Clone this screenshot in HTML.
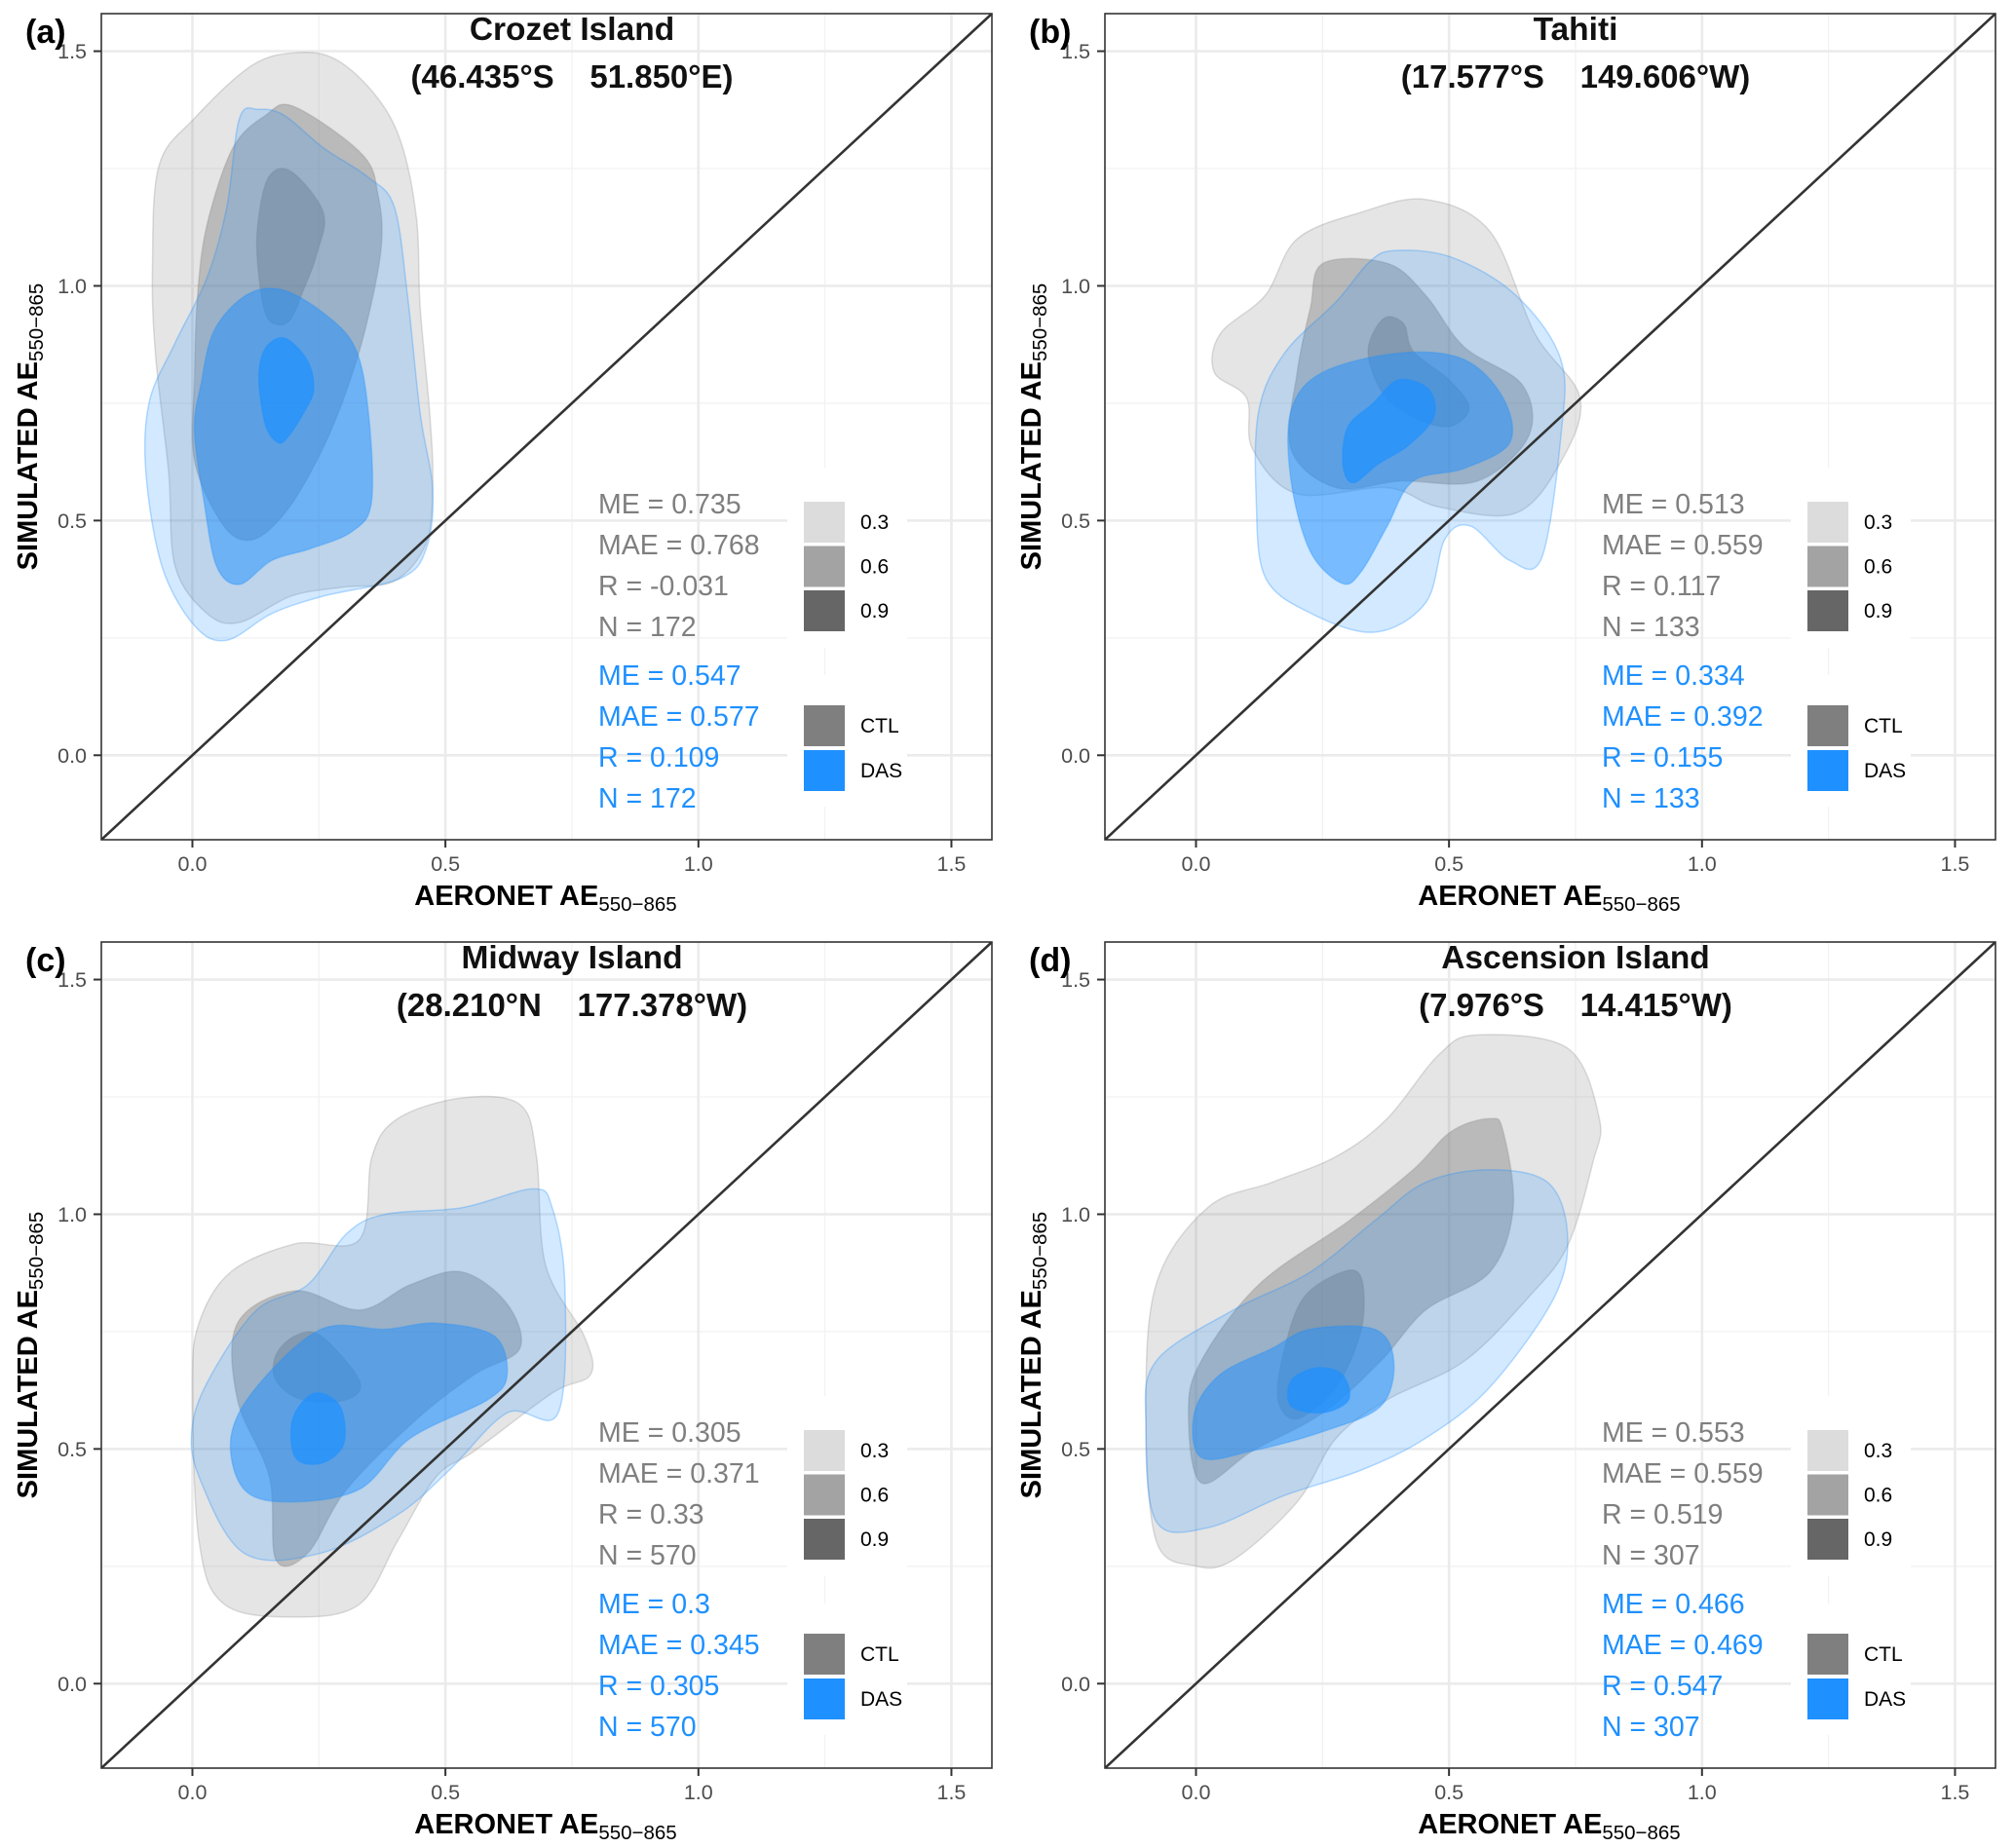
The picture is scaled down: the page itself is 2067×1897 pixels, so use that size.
<!DOCTYPE html>
<html><head><meta charset="utf-8"><style>
html,body{margin:0;padding:0;background:#fff;}
svg{display:block;font-family:"Liberation Sans",Arial,sans-serif;}
</style></head><body>
<svg id="fig" width="2067" height="1897" viewBox="0 0 2067 1897" xmlns="http://www.w3.org/2000/svg"></svg>
<script>
const ticks = [0, 0.5, 1.0, 1.5];
const tickLabels = ["0.0", "0.5", "1.0", "1.5"];
const minorTicks = [0.25, 0.75, 1.25];
const levels = ["0.3", "0.6", "0.9"];
const groups = ["CTL", "DAS"];

const panelIds = ["a", "b", "c", "d"];
const panelNames = ["Crozet Island", "Tahiti", "Midway Island", "Ascension Island"];
const panelCoords = ["(46.435°S    51.850°E)", "(17.577°S    149.606°W)", "(28.210°N    177.378°W)", "(7.976°S    14.415°W)"];
const ctlStats = [["0.735","0.768","-0.031","172"],["0.513","0.559","0.117","133"],["0.305","0.371","0.33","570"],["0.553","0.559","0.519","307"]];
const dasStats = [["0.547","0.577","0.109","172"],["0.334","0.392","0.155","133"],["0.3","0.345","0.305","570"],["0.466","0.469","0.547","307"]];

// contour polygons [x,y] in data units: [panel][level]
const ctlContours = [
 [
  [[.208,1.497],[.284,1.482],[.361,1.407],[.412,1.307],[.443,1.143],[.450,.955],[.469,.729],[.475,.578],[.462,.452],[.399,.371],[.297,.358],[.195,.339],[.093,.283],[.029,.302],[-.034,.402],[-.047,.603],[-.073,.854],[-.079,1.043],[-.066,1.256],[.004,1.357],[.118,1.470]],
  [[.201,1.382],[.335,1.281],[.367,1.193],[.373,1.080],[.341,.905],[.297,.754],[.246,.628],[.182,.515],[.118,.459],[.061,.490],[.004,.628],[.004,.804],[.010,.980],[.029,1.131],[.080,1.294],[.144,1.363]],
  [[.195,1.244],[.259,1.156],[.246,1.068],[.220,.992],[.195,.930],[.169,.917],[.144,.942],[.129,1.043],[.129,1.131],[.150,1.231]]
 ],
 [
  [[.454,1.184],[.581,1.116],[.67,.898],[.759,.761],[.721,.625],[.632,.516],[.48,.529],[.378,.570],[.20,.557],[.112,.652],[.10,.761],[.036,.816],[.048,.898],[.137,.98],[.20,1.10],[.327,1.157]],
  [[.251,1.048],[.378,1.048],[.454,.98],[.53,.87],[.645,.789],[.657,.679],[.556,.584],[.404,.584],[.277,.57],[.188,.652],[.20,.816],[.226,.953]],
  [[.37,.93],[.41,.92],[.43,.86],[.50,.80],[.54,.74],[.50,.70],[.43,.72],[.37,.77],[.34,.86]]
 ],
 [
  [[.533,1.248],[.647,1.234],[.68,1.123],[.698,.891],[.774,.741],[.787,.659],[.711,.619],[.558,.496],[.482,.441],[.406,.305],[.33,.169],[.203,.142],[.063,.169],[.013,.305],[0,.632],[.013,.768],[.076,.877],[.203,.937],[.33,.946],[.355,1.123],[.406,1.204]],
  [[.203,.837],[.33,.796],[.431,.85],[.533,.877],[.622,.809],[.647,.714],[.558,.659],[.444,.564],[.305,.414],[.228,.278],[.165,.264],[.152,.441],[.089,.605],[.089,.768]],
  [[.203,.741],[.254,.741],[.33,.646],[.305,.605],[.216,.605],[.165,.646],[.165,.700]]
 ],
 [
  [[.556,1.382],[.734,1.354],[.797,1.204],[.784,1.109],[.734,.932],[.657,.823],[.53,.687],[.378,.605],[.277,.523],[.20,.387],[.074,.264],[-.003,.251],[-.079,.305],[-.099,.577],[-.079,.85],[.023,1.014],[.15,1.068],[.277,1.123],[.378,1.204],[.48,1.34]],
  [[.581,1.204],[.607,1.177],[.627,1.014],[.581,.877],[.454,.796],[.365,.687],[.251,.577],[.112,.496],[.01,.428],[-.015,.577],[.01,.687],[.124,.85],[.302,.986],[.429,1.095],[.505,1.177]],
  [[.289,.877],[.327,.864],[.327,.755],[.277,.632],[.20,.564],[.162,.605],[.175,.714],[.213,.823]]
 ]
];
const dasContours = [
 [
  [[.131,1.376],[.182,1.363],[.259,1.294],[.348,1.231],[.399,1.168],[.425,.980],[.450,.729],[.475,.565],[.462,.440],[.412,.377],[.259,.339],[.157,.302],[.068,.245],[.004,.276],[-.060,.402],[-.092,.603],[-.085,.754],[-.034,.879],[.029,1.018],[.068,1.168],[.093,1.357]],
  [[.176,.992],[.259,.942],[.322,.867],[.348,.729],[.354,.540],[.316,.477],[.233,.440],[.157,.415],[.093,.364],[.048,.402],[.023,.540],[.004,.691],[.017,.791],[.043,.905],[.106,.980]],
  [[.182,.889],[.227,.842],[.240,.779],[.220,.729],[.189,.678],[.169,.666],[.144,.704],[.131,.804],[.144,.867]]
 ],
 [
  [[.39,1.075],[.505,1.061],[.632,.98],[.721,.843],[.721,.679],[.683,.42],[.62,.415],[.543,.488],[.492,.461],[.454,.325],[.353,.262],[.226,.303],[.137,.379],[.119,.543],[.124,.734],[.175,.857],[.277,.966],[.34,1.048]],
  [[.251,.816],[.404,.857],[.53,.843],[.607,.761],[.62,.666],[.53,.611],[.429,.584],[.378,.488],[.327,.392],[.289,.366],[.226,.434],[.188,.584],[.188,.734]],
  [[.40,.80],[.46,.78],[.47,.72],[.42,.66],[.36,.62],[.31,.58],[.29,.62],[.30,.70],[.35,.75]]
 ],
 [
  [[.381,1.0],[.533,1.014],[.673,1.054],[.711,1.014],[.736,.85],[.723,.577],[.622,.577],[.508,.455],[.406,.36],[.254,.278],[.102,.278],[.013,.441],[0,.55],[.038,.659],[.127,.796],[.228,.85],[.305,.959]],
  [[.254,.755],[.381,.755],[.482,.768],[.596,.741],[.622,.659],[.584,.605],[.431,.523],[.33,.414],[.19,.387],[.102,.414],[.076,.523],[.127,.632]],
  [[.241,.619],[.292,.591],[.299,.51],[.254,.469],[.203,.482],[.198,.564]]
 ],
 [
  [[.581,1.095],[.695,1.068],[.734,.959],[.708,.823],[.581,.632],[.454,.523],[.327,.455],[.175,.401],[.023,.332],[-.079,.346],[-.099,.55],[-.079,.687],[.074,.796],[.226,.877],[.353,.986],[.454,1.068]],
  [[.226,.755],[.353,.755],[.391,.687],[.365,.591],[.251,.537],[.112,.496],[.01,.482],[-.003,.577],[.048,.659],[.15,.714]],
  [[.239,.673],[.289,.659],[.302,.605],[.251,.577],[.188,.591],[.188,.646]]
 ]
];

const NS = "http://www.w3.org/2000/svg";
const svg = document.getElementById("fig");
const PW = 914, PH = 848, DMIN = -0.18, DMAX = 1.58;
const offsets = [[104,14],[1134,14],[104,967],[1134,967]];
const gOp = [0.2, 0.42, 0.5], bOp = [0.2, 0.5, 0.72];

function mk(tag, attrs, parent) {
  const e = document.createElementNS(NS, tag);
  for (const k in attrs) e.setAttribute(k, attrs[k]);
  (parent || svg).appendChild(e);
  return e;
}
function smooth(pts) {
  const n = pts.length; let d = "";
  for (let i = 0; i < n; i++) {
    const p0 = pts[(i-1+n)%n], p1 = pts[i], p2 = pts[(i+1)%n], p3 = pts[(i+2)%n];
    if (i === 0) d += "M" + p1[0].toFixed(1) + "," + p1[1].toFixed(1);
    const c1 = [p1[0]+(p2[0]-p0[0])/6, p1[1]+(p2[1]-p0[1])/6];
    const c2 = [p2[0]-(p3[0]-p1[0])/6, p2[1]-(p3[1]-p1[1])/6];
    d += "C" + c1[0].toFixed(1)+","+c1[1].toFixed(1)+" "+c2[0].toFixed(1)+","+c2[1].toFixed(1)+" "+p2[0].toFixed(1)+","+p2[1].toFixed(1);
  }
  return d + "Z";
}

panelIds.forEach((pid, p) => {
  const L = offsets[p][0], T = offsets[p][1];
  const sx = v => L + (v - DMIN) / (DMAX - DMIN) * PW;
  const sy = v => T + PH - (v - DMIN) / (DMAX - DMIN) * PH;
  const g = mk("g", {});
  
  
  const clipId = "clip" + p;
  const cp = mk("clipPath", {id: clipId}, g);
  mk("rect", {x: L, y: T, width: PW, height: PH}, cp);

  minorTicks.forEach(t => {
    mk("line", {x1: sx(t), x2: sx(t), y1: T, y2: T+PH, stroke: "#f2f2f2", "stroke-width": 1.3}, g);
    mk("line", {x1: L, x2: L+PW, y1: sy(t), y2: sy(t), stroke: "#f2f2f2", "stroke-width": 1.3}, g);
  });
  ticks.forEach(t => {
    mk("line", {x1: sx(t), x2: sx(t), y1: T, y2: T+PH, stroke: "#ebebeb", "stroke-width": 2.6}, g);
    mk("line", {x1: L, x2: L+PW, y1: sy(t), y2: sy(t), stroke: "#ebebeb", "stroke-width": 2.6}, g);
  });

  const cg = mk("g", {"clip-path": "url(#" + clipId + ")"}, g);
  ctlContours[p].forEach((poly, li) => {
    const path = mk("path", {d: smooth(poly.map(q => [sx(q[0]), sy(q[1])])), fill: "#7f7f7f", "fill-opacity": gOp[li], stroke: "#7f7f7f", "stroke-opacity": 0.25, "stroke-width": 1.5}, cg);
    
    
  });
  dasContours[p].forEach((poly, li) => {
    const path = mk("path", {d: smooth(poly.map(q => [sx(q[0]), sy(q[1])])), fill: "#1e90ff", "fill-opacity": bOp[li], stroke: "#1e90ff", "stroke-opacity": 0.3, "stroke-width": 1.5}, cg);
    
    
  });
  const diag = mk("line", {x1: sx(DMIN), y1: sy(DMIN), x2: sx(DMAX), y2: sy(DMAX), stroke: "#333", "stroke-width": 2.6}, cg);
  
  

  mk("rect", {x: L+704, y: T+466, width: 123, height: 185, fill: "#fff"}, g);
  mk("rect", {x: L+704, y: T+679, width: 123, height: 135, fill: "#fff"}, g);
  const lg = mk("g", {}, g);
  
  
  const lvlCol = ["#dcdcdc", "#a3a3a3", "#666666"];
  levels.forEach((lv, i) => {
    mk("rect", {x: L+721, y: T+501+i*45.5, width: 42, height: 42, fill: lvlCol[i]}, lg);
    const t = mk("text", {x: L+779, y: T+529+i*45.5, "font-size": 21, fill: "#000"}, lg);
    t.textContent = lv;
  });
  const lg2 = mk("g", {}, g);
  
  
  const grpCol = ["#7f7f7f", "#1e90ff"];
  groups.forEach((gr, i) => {
    mk("rect", {x: L+721, y: T+710+i*46, width: 42, height: 42, fill: grpCol[i]}, lg2);
    const t = mk("text", {x: L+779, y: T+738+i*46, "font-size": 21, fill: "#000"}, lg2);
    t.textContent = gr;
  });

  const lbl = ["ME = ", "MAE = ", "R = ", "N = "];
  lbl.forEach((s, i) => {
    const t1 = mk("text", {x: L+510, y: T+513+i*42, "font-size": 28.5, fill: "#7f7f7f"}, g);
    t1.textContent = s + ctlStats[p][i];
    
    
    const t2 = mk("text", {x: L+510, y: T+689+i*42, "font-size": 28.5, fill: "#1e90ff"}, g);
    t2.textContent = s + dasStats[p][i];
    
    
  });

  mk("rect", {x: L, y: T, width: PW, height: PH, fill: "none", stroke: "#333", "stroke-width": 1.6}, g);

  ticks.forEach((t, i) => {
    mk("line", {x1: sx(t), x2: sx(t), y1: T+PH, y2: T+PH+8, stroke: "#333", "stroke-width": 2}, g);
    mk("line", {x1: L-8, x2: L, y1: sy(t), y2: sy(t), stroke: "#333", "stroke-width": 2}, g);
    const tx = mk("text", {x: sx(t), y: T+880, "font-size": 21.5, fill: "#4d4d4d", "text-anchor": "middle"}, g);
    tx.textContent = tickLabels[i];
    const ty = mk("text", {x: L-15, y: sy(t)+7.5, "font-size": 21.5, fill: "#4d4d4d", "text-anchor": "end"}, g);
    ty.textContent = tickLabels[i];
  });

  const xt = mk("text", {x: L+456, y: T+915, "font-size": 29, "font-weight": "bold", "text-anchor": "middle", fill: "#000"}, g);
  xt.innerHTML = 'AERONET AE<tspan font-size="20.5" font-weight="normal" dy="6">550−865</tspan>';
  
  
  const yt = mk("text", {x: 0, y: 0, "font-size": 29, "font-weight": "bold", "text-anchor": "middle", fill: "#000", transform: "translate(" + (L-66) + "," + (T+424) + ") rotate(-90)"}, g);
  yt.innerHTML = 'SIMULATED AE<tspan font-size="20.5" font-weight="normal" dy="6">550−865</tspan>';
  
  

  const t1 = mk("text", {x: L+483, y: T+27, "font-size": 33.5, "font-weight": "bold", "text-anchor": "middle", fill: "#111"}, g);
  t1.textContent = panelNames[p];
  
  
  const t2 = mk("text", {x: L+483, y: T+76, "font-size": 33, "font-weight": "bold", "text-anchor": "middle", fill: "#111"}, g);
  t2.setAttribute("style", "white-space:pre");
  t2.textContent = panelCoords[p];
  
  
  const tag = mk("text", {x: L-78, y: T+30, "font-size": 34, "font-weight": "bold", fill: "#000"}, g);
  tag.textContent = "(" + pid + ")";
  
  
});
</script>
</body></html>
